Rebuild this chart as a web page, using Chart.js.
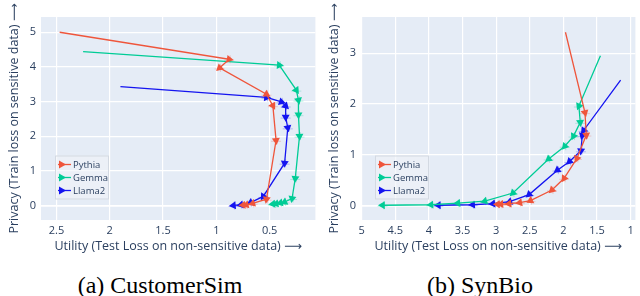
<!DOCTYPE html>
<html>
<head>
<meta charset="utf-8">
<script src="https://cdn.jsdelivr.net/npm/chart.js@4.4.1/dist/chart.umd.min.js"></script>
<style>
  body { margin: 0; background: #fff; width: 640px; height: 296px; position: relative; overflow: hidden; }
  .panel { position: absolute; top: 0; width: 320px; height: 256px; }
  .caption { position: absolute; top: 270px; width: 320px; text-align: center;
             font-family: "Liberation Serif", "Times New Roman", serif; font-size: 24px; line-height: 30px; color: #000; }
</style>
</head>
<body>
<div class="panel" style="left:0"><canvas id="chartA" width="320" height="256"></canvas></div>
<div class="panel" style="left:320px"><canvas id="chartB" width="320" height="256"></canvas></div>
<div class="caption" style="left:0">(a) CustomerSim</div>
<div class="caption" style="left:320px">(b) SynBio</div>
<script>
// Data: x = test loss (utility), y = train loss (privacy)
const models = ['Pythia', 'Gemma', 'Llama2'];
const colors = ['#EF553B', '#00CC96', '#1414F0'];

// (a) CustomerSim
const custPythiaX = [2.47, 0.88, 0.97, 0.53, 0.47, 0.44, 0.53, 0.66, 0.72, 0.75];
const custPythiaY = [5.00, 4.22, 3.97, 3.21, 2.88, 1.88, 0.18, 0.06, 0.02, 0.01];
const custGemmaX  = [2.25, 0.41, 0.25, 0.23, 0.23, 0.22, 0.26, 0.29, 0.36, 0.40, 0.44, 0.47];
const custGemmaY  = [4.44, 4.05, 3.33, 3.04, 2.62, 2.00, 0.78, 0.20, 0.10, 0.07, 0.05, 0.04];
const custLlamaX  = [1.90, 0.53, 0.39, 0.35, 0.35, 0.33, 0.36, 0.56, 0.68, 0.77, 0.84];
const custLlamaY  = [3.43, 3.12, 2.99, 2.87, 2.55, 2.24, 1.22, 0.26, 0.08, 0.02, 0.00];

// (b) SynBio
const bioPythiaX = [1.97, 1.68, 1.66, 1.80, 1.99, 2.17, 2.49, 2.65, 2.81, 2.93, 2.98];
const bioPythiaY = [3.41, 1.83, 1.39, 0.93, 0.54, 0.31, 0.10, 0.06, 0.04, 0.03, 0.03];
const bioGemmaX  = [1.45, 1.77, 1.75, 1.85, 1.98, 2.22, 2.75, 3.17, 3.57, 3.97, 4.69];
const bioGemmaY  = [2.95, 1.96, 1.64, 1.37, 1.17, 0.92, 0.25, 0.09, 0.05, 0.02, 0.01];
const bioLlamaX  = [1.15, 1.70, 1.72, 1.74, 1.91, 2.09, 2.51, 2.80, 3.05, 3.35, 3.86];
const bioLlamaY  = [2.47, 1.48, 1.38, 1.08, 0.87, 0.70, 0.22, 0.08, 0.04, 0.02, 0.01];

const xTitle = 'Utility (Test Loss on non-sensitive data) \u27F6';
const yTitle = 'Privacy (Train loss on sensitive data) \u27F6';
const ink = '#2a3f5f';
const font = '"Open Sans", "DejaVu Sans", sans-serif';

function zip(xs, ys) { return xs.map((x, i) => ({ x: x, y: ys[i] })); }

// labels like 2.5, 2, 1.5 (no trailing .0)
function shortNum(v) { return String(Math.round(v * 10) / 10); }

// triangle points along the segment coming from the previous point
function arrowAngle(c) {
  const i = c.dataIndex;
  if (i === 0) return 0;
  const d = c.dataset.data, sx = c.chart.scales.x, sy = c.chart.scales.y;
  const dx = sx.getPixelForValue(d[i].x) - sx.getPixelForValue(d[i - 1].x);
  const dy = sy.getPixelForValue(d[i].y) - sy.getPixelForValue(d[i - 1].y);
  return Math.atan2(dx, -dy) * 180 / Math.PI;
}

function makeDataset(k, xs, ys) {
  return {
    label: models[k],
    data: zip(xs, ys),
    borderColor: colors[k],
    backgroundColor: colors[k],
    borderWidth: 1.3,
    pointStyle: 'triangle',
    pointRadius: c => c.dataIndex === 0 ? 0 : 4.6,
    pointBorderWidth: 0,
    pointRotation: arrowAngle,
    tension: 0
  };
}

const plotBg = {
  id: 'plotBg',
  beforeDraw(chart) {
    const a = chart.chartArea, ctx = chart.ctx;
    ctx.save();
    ctx.fillStyle = '#E5ECF6';
    ctx.fillRect(a.left, a.top, a.right - a.left, a.bottom - a.top);
    ctx.restore();
  }
};

// faint cross behind each marker (like the light error ticks in the figure)
const crosses = {
  id: 'crosses',
  beforeDatasetsDraw(chart) {
    const ctx = chart.ctx;
    ctx.save();
    ctx.lineWidth = 1;
    chart.data.datasets.forEach((ds, k) => {
      const meta = chart.getDatasetMeta(k);
      ctx.strokeStyle = ds.borderColor;
      ctx.globalAlpha = 0.25;
      meta.data.forEach((p, i) => {
        if (i === 0) return;
        ctx.beginPath();
        ctx.moveTo(p.x - 5, p.y + 1); ctx.lineTo(p.x + 5, p.y + 1);
        ctx.moveTo(p.x + 1, p.y - 4); ctx.lineTo(p.x + 1, p.y + 4);
        ctx.stroke();
      });
    });
    ctx.restore();
  }
};

// legend box in the lower left of the plot area
const boxLegend = {
  id: 'boxLegend',
  afterDraw(chart) {
    const ctx = chart.ctx, a = chart.chartArea;
    const bx = a.left + 14, by = a.top + 138.5, bw = 54, bh = 44;
    ctx.save();
    ctx.fillStyle = 'rgba(240,243,249,0.6)';
    ctx.fillRect(bx, by, bw, bh);
    ctx.strokeStyle = '#d3d9e2';
    ctx.lineWidth = 1;
    ctx.strokeRect(bx + 0.5, by + 0.5, bw - 1, bh - 1);
    ctx.font = '9.5px ' + font;
    ctx.textBaseline = 'middle';
    chart.data.datasets.forEach((ds, k) => {
      const y = by + 9 + k * 13;
      ctx.strokeStyle = ds.borderColor;
      ctx.fillStyle = ds.borderColor;
      ctx.lineWidth = 1.3;
      ctx.beginPath();
      ctx.moveTo(bx + 3, y); ctx.lineTo(bx + 16, y);
      ctx.stroke();
      ctx.beginPath();
      ctx.moveTo(bx + 11, y); ctx.lineTo(bx + 4, y - 4); ctx.lineTo(bx + 4, y + 4);
      ctx.closePath();
      ctx.fill();
      ctx.fillStyle = ink;
      ctx.fillText(ds.label, bx + 18, y + 0.5);
    });
    ctx.restore();
  }
};

function makeChart(id, sets, xMin, xMax, yMin, yMax) {
  return new Chart(document.getElementById(id), {
    type: 'line',
    data: { datasets: sets },
    plugins: [plotBg, crosses, boxLegend],
    options: {
      responsive: false,
      animation: false,
      devicePixelRatio: 1,
      layout: { padding: { top: 17, right: 1, left: 0, bottom: 0 } },
      plugins: { legend: { display: false }, tooltip: { enabled: false } },
      scales: {
        x: {
          type: 'linear', reverse: true, min: xMin, max: xMax,
          afterFit: s => { s.height = 36; },
          border: { display: false },
          grid: { color: '#ffffff', lineWidth: 1.2, drawTicks: false },
          ticks: { stepSize: 0.5, includeBounds: false, autoSkip: false, maxRotation: 0,
                   color: ink, padding: 4, font: { family: font, size: 11 }, callback: shortNum },
          title: { display: true, text: xTitle, color: ink, padding: { top: 0, bottom: 2 },
                   font: { family: font, size: 12.5 } }
        },
        y: {
          type: 'linear', min: yMin, max: yMax,
          afterFit: s => { s.width = 41; },
          border: { display: false },
          grid: { color: '#ffffff', lineWidth: c => c.tick && c.tick.value === 0 ? 1.8 : 1.2, drawTicks: false },
          ticks: { stepSize: 1, includeBounds: false, color: ink, padding: 5,
                   font: { family: font, size: 11 }, callback: shortNum },
          title: { display: true, text: yTitle, color: ink, padding: { top: 7, bottom: 0 },
                   font: { family: font, size: 12.5 } }
        }
      }
    }
  });
}

makeChart('chartA', [
  makeDataset(0, custPythiaX, custPythiaY),
  makeDataset(1, custGemmaX, custGemmaY),
  makeDataset(2, custLlamaX, custLlamaY)
], 0.071, 2.645, -0.42, 5.44);

makeChart('chartB', [
  makeDataset(0, bioPythiaX, bioPythiaY),
  makeDataset(1, bioGemmaX, bioGemmaY),
  makeDataset(2, bioLlamaX, bioLlamaY)
], 0.93, 5.01, -0.28, 3.71);
</script>
</body>
</html>
